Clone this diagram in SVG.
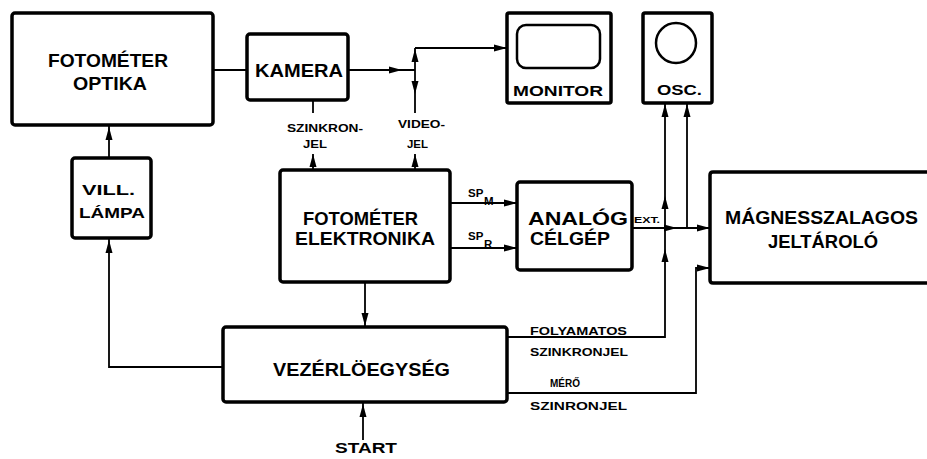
<svg xmlns="http://www.w3.org/2000/svg" xmlns:xlink="http://www.w3.org/1999/xlink" width="927" height="459" viewBox="0 0 927 459">
<style>
.box{fill:none;stroke:#000;stroke-width:3.5;stroke-linejoin:round}
.ln{fill:none;stroke:#000;stroke-width:1.8}
text{font-family:"Liberation Sans",Arial,sans-serif;font-weight:bold;fill:#000}
.big{font-size:18px}
.mid{font-size:15px}
.sm{font-size:11.5px}
.xs{font-size:9px}
</style>
<defs>
<path id="ah" d="M0,0 L-13,-3.5 L-13,3.5 Z" fill="#000"/>
</defs>
<rect width="927" height="459" fill="#fff"/>
<g id="optika">
<rect class="box" x="12" y="13" width="201" height="112" rx="3"/>
<text class="big" x="48" y="67" textLength="120" lengthAdjust="spacingAndGlyphs">FOTOMÉTER</text>
<text class="big" x="73" y="90" textLength="74" lengthAdjust="spacingAndGlyphs">OPTIKA</text>
</g>
<g id="kamera">
<rect class="box" x="247" y="34" width="101" height="66" rx="3"/>
<text class="big" x="255" y="77" textLength="88" lengthAdjust="spacingAndGlyphs">KAMERA</text>
</g>
<g id="monitor">
<rect class="box" x="507" y="13" width="104" height="90" rx="2"/>
<rect class="box" x="517" y="25" width="83" height="43" rx="9" style="stroke-width:2.5"/>
<text class="mid" x="513" y="96" textLength="90" lengthAdjust="spacingAndGlyphs">MONITOR</text>
</g>
<g id="osc">
<rect class="box" x="643" y="13" width="69" height="90" rx="2"/>
<circle cx="676" cy="43" r="20" fill="none" stroke="#000" stroke-width="2.5"/>
<text class="mid" x="657" y="95" textLength="45" lengthAdjust="spacingAndGlyphs">OSC.</text>
</g>
<g id="lampa">
<rect class="box" x="72" y="158" width="79" height="80" rx="3"/>
<text class="mid" x="82" y="195" textLength="53" lengthAdjust="spacingAndGlyphs">VILL.</text>
<text class="mid" x="79" y="218" textLength="66" lengthAdjust="spacingAndGlyphs">LÁMPA</text>
</g>
<g id="elektronika">
<rect class="box" x="280" y="170" width="170" height="112" rx="3"/>
<text class="big" x="303" y="225" textLength="115" lengthAdjust="spacingAndGlyphs">FOTOMÉTER</text>
<text class="big" x="295" y="245" textLength="140" lengthAdjust="spacingAndGlyphs">ELEKTRONIKA</text>
</g>
<g id="analog">
<rect class="box" x="517" y="182" width="115" height="88" rx="3"/>
<text class="big" x="528" y="225" textLength="100" lengthAdjust="spacingAndGlyphs">ANALÓG</text>
<text class="big" x="530" y="245" textLength="80" lengthAdjust="spacingAndGlyphs">CÉLGÉP</text>
</g>
<g id="magnesszalagos">
<path class="box" d="M935,172 H713 Q710,172 710,175 V280 Q710,283 713,283 H935"/>
<text class="big" x="725" y="224" textLength="193" lengthAdjust="spacingAndGlyphs">MÁGNESSZALAGOS</text>
<text class="big" x="768" y="248" textLength="110" lengthAdjust="spacingAndGlyphs">JELTÁROLÓ</text>
</g>
<g id="vezerlo">
<rect class="box" x="223" y="327" width="284" height="75" rx="3"/>
<text class="big" x="273" y="376" textLength="177" lengthAdjust="spacingAndGlyphs">VEZÉRLÖEGYSÉG</text>
</g>
<g id="connectors">
<path class="ln" d="M213,70 H247"/>
<path class="ln" d="M348,70 H415"/>
<use xlink:href="#ah" transform="translate(402,70)"/>
<path class="ln" d="M415,48 H507"/>
<use xlink:href="#ah" transform="translate(507,48)"/>
<path class="ln" d="M415,48 V113"/>
<use xlink:href="#ah" transform="translate(415,49) rotate(-90)"/>
<use xlink:href="#ah" transform="translate(415,94) rotate(90)"/>
<path class="ln" d="M313,100 V113"/>
<path class="ln" d="M313,154 V170"/>
<use xlink:href="#ah" transform="translate(313,154) rotate(-90)"/>
<path class="ln" d="M415,154 V170"/>
<use xlink:href="#ah" transform="translate(415,154) rotate(-90)"/>
<path class="ln" d="M109,158 V125"/>
<use xlink:href="#ah" transform="translate(109,127) rotate(-90)"/>
<path class="ln" d="M223,367 H109 V238"/>
<use xlink:href="#ah" transform="translate(109,240) rotate(-90)"/>
<path class="ln" d="M450,203 H517"/>
<use xlink:href="#ah" transform="translate(517,203)"/>
<path class="ln" d="M450,248 H517"/>
<use xlink:href="#ah" transform="translate(517,248)"/>
<path class="ln" d="M365,282 V327"/>
<use xlink:href="#ah" transform="translate(365,326) rotate(90)"/>
<path class="ln" d="M363,440 V402"/>
<use xlink:href="#ah" transform="translate(363,404) rotate(-90)"/>
<path class="ln" d="M632,228 H710"/>
<use xlink:href="#ah" transform="translate(677,228)"/>
<use xlink:href="#ah" transform="translate(710,228)"/>
<path class="ln" d="M687,228 V103"/>
<use xlink:href="#ah" transform="translate(687,104) rotate(-90)"/>
<path class="ln" d="M507,337 H665 V103"/>
<use xlink:href="#ah" transform="translate(665,104) rotate(-90)"/>
<use xlink:href="#ah" transform="translate(665,196) rotate(-90)"/>
<use xlink:href="#ah" transform="translate(665,249) rotate(-90)"/>
<path class="ln" d="M507,393 H696 V268 H710"/>
<use xlink:href="#ah" transform="translate(710,268)"/>
</g>
<g id="labels">
<text class="sm" x="287" y="132" textLength="76" lengthAdjust="spacingAndGlyphs">SZINKRON-</text>
<text class="sm" x="303" y="148" textLength="24" lengthAdjust="spacingAndGlyphs">JEL</text>
<text class="sm" x="398" y="128" textLength="47" lengthAdjust="spacingAndGlyphs">VIDEO-</text>
<text class="sm" x="407" y="148" textLength="21" lengthAdjust="spacingAndGlyphs">JEL</text>
<text class="sm" x="468" y="197">SP</text>
<text class="sm" x="484" y="205">M</text>
<text class="sm" x="468" y="240">SP</text>
<text class="sm" x="484" y="248">R</text>
<text class="xs" x="634" y="223" textLength="26" lengthAdjust="spacingAndGlyphs">EXT.</text>
<text class="sm" x="530" y="335" textLength="97" lengthAdjust="spacingAndGlyphs">FOLYAMATOS</text>
<text class="sm" x="530" y="356" textLength="98" lengthAdjust="spacingAndGlyphs">SZINKRONJEL</text>
<text class="sm" x="550" y="387" textLength="30" lengthAdjust="spacingAndGlyphs">MÉRŐ</text>
<text class="sm" x="530" y="410" textLength="97" lengthAdjust="spacingAndGlyphs">SZINRONJEL</text>
<text class="mid" x="335" y="453" textLength="62" lengthAdjust="spacingAndGlyphs">START</text>
</g>
</svg>
